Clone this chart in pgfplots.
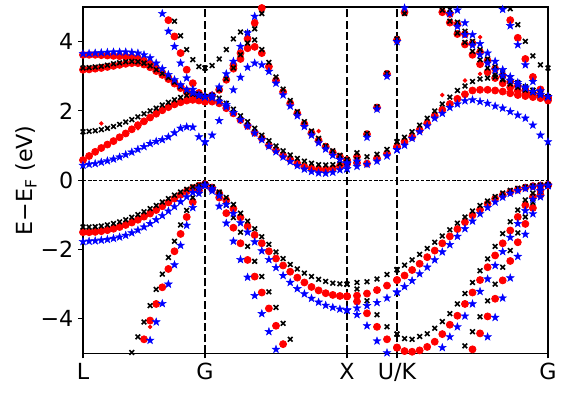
\documentclass[border=0pt]{standalone}
\usepackage{pgfplots}
\pgfplotsset{compat=1.18}
\usepackage{pgfplotstable}
\usepackage{fontspec}
\setmainfont{DejaVu Sans}

\pgfdeclareplotmark{fstar}{%
  \pgfpathmoveto{\pgfpointpolar{90}{1\pgfplotmarksize}}%
  \pgfpathlineto{\pgfpointpolar{126}{0.4\pgfplotmarksize}}%
  \pgfpathlineto{\pgfpointpolar{162}{1\pgfplotmarksize}}%
  \pgfpathlineto{\pgfpointpolar{198}{0.4\pgfplotmarksize}}%
  \pgfpathlineto{\pgfpointpolar{234}{1\pgfplotmarksize}}%
  \pgfpathlineto{\pgfpointpolar{270}{0.4\pgfplotmarksize}}%
  \pgfpathlineto{\pgfpointpolar{306}{1\pgfplotmarksize}}%
  \pgfpathlineto{\pgfpointpolar{342}{0.4\pgfplotmarksize}}%
  \pgfpathlineto{\pgfpointpolar{18}{1\pgfplotmarksize}}%
  \pgfpathlineto{\pgfpointpolar{54}{0.4\pgfplotmarksize}}%
  \pgfpathclose
  \pgfusepathqfillstroke}

% L - G segment
\pgfplotstableread{
x bv1 bv2 bc1 bc2 bd rv1 rv2 rc1 rc2 rc3 rd sv1 sv2 sc1 sc2 sd
0 -1.35 nan 1.40 3.24 nan -1.50 nan 0.58 3.62 3.19 nan -1.77 nan 0.43 3.65 nan
6.1 -1.35 nan 1.41 3.25 nan -1.50 nan 0.70 3.62 3.20 nan -1.76 nan 0.46 3.66 nan
12.2 -1.34 nan 1.43 3.27 nan -1.49 nan 0.82 3.62 3.22 nan -1.75 nan 0.48 3.67 nan
18.3 -1.32 nan 1.46 3.29 nan -1.47 nan 0.93 3.61 3.24 nan -1.73 nan 0.52 3.68 nan
24.4 -1.29 nan 1.50 3.32 nan -1.44 nan 1.03 3.60 3.27 nan -1.71 nan 0.56 3.69 nan
30.5 -1.25 nan 1.55 3.36 nan -1.40 nan 1.13 3.59 3.30 nan -1.68 nan 0.61 3.70 nan
36.6 -1.20 nan 1.61 3.39 nan -1.35 nan 1.24 3.58 3.33 nan -1.64 nan 0.67 3.70 nan
42.7 -1.14 nan 1.68 3.42 nan -1.29 nan 1.35 3.57 3.36 nan -1.59 nan 0.74 3.70 nan
48.8 -1.07 -4.97 1.75 3.43 nan -1.22 nan 1.47 3.55 3.38 nan -1.52 nan 0.81 3.69 nan
54.9 -0.99 -4.52 1.83 3.42 nan -1.14 nan 1.59 3.52 3.38 nan -1.44 nan 0.89 3.67 nan
61 -0.91 -4.09 1.92 3.38 nan -1.05 -4.59 1.70 3.45 3.34 nan -1.35 nan 0.97 3.62 nan
67.1 -0.82 -3.62 2.00 3.30 nan -0.96 -4.05 1.81 3.36 3.26 nan -1.25 -4.62 1.06 3.53 nan
73.2 -0.73 -3.15 2.08 3.19 nan -0.86 -3.57 1.92 3.24 3.15 nan -1.14 -4.09 1.12 3.38 nan
79.3 -0.63 -2.71 2.17 3.08 nan -0.75 -3.09 2.02 3.10 3.04 nan -1.02 -3.56 1.17 3.22 4.81
85.4 -0.53 -2.23 2.25 2.96 nan -0.64 -2.56 2.11 2.95 2.92 4.62 -0.89 -3.00 1.25 3.05 4.30
91.5 -0.43 -1.76 2.32 2.83 4.59 -0.53 -2.05 2.19 2.82 2.79 4.15 -0.76 -2.44 1.37 2.90 3.86
97.6 -0.34 -1.29 2.39 2.70 4.17 -0.42 -1.55 2.25 2.70 2.66 3.67 -0.62 -1.88 1.50 2.75 3.38
103.7 -0.26 -0.87 2.45 2.58 3.77 -0.32 -1.06 2.30 2.58 2.54 3.19 -0.48 -1.30 1.54 2.62 2.95
109.8 -0.19 -0.50 2.50 2.48 3.48 -0.23 -0.63 2.32 2.47 2.44 2.80 -0.35 -0.79 1.53 2.52 2.62
115.9 -0.14 -0.22 2.48 2.43 3.28 -0.16 -0.30 2.30 2.37 2.36 2.52 -0.23 -0.38 1.25 2.45 2.46
122 -0.12 -0.12 2.41 2.41 3.24 -0.12 -0.12 2.27 2.30 2.30 2.40 -0.15 -0.15 1.10 2.41 2.41
}\LG

% G - X segment
\pgfplotstableread{
x bv1 bv2 bc1 bp bq rv1 rv2 rc1 rp rq sv1 sv2 sc1 sp sq
122 -0.12 -0.12 2.41 3.24 2.41 -0.12 -0.12 2.27 2.40 nan -0.15 -0.15 2.41 1.11 2.41
129.1 -0.19 -0.20 2.41 3.31 2.45 -0.21 -0.25 2.27 2.45 nan -0.25 -0.31 2.38 1.30 2.45
136.2 -0.34 -0.40 2.37 3.50 2.62 -0.38 -0.50 2.22 2.61 nan -0.45 -0.75 2.28 1.72 2.69
143.3 -0.50 -0.72 2.22 3.77 2.93 -0.58 -0.95 2.08 2.90 nan -0.70 -1.24 2.12 2.18 3.07
150.4 -0.70 -1.08 2.05 4.08 3.24 -0.82 -1.37 1.93 3.22 3.32 -0.96 -1.76 1.95 2.61 3.43
157.5 -0.95 -1.50 1.86 4.28 3.62 -1.07 -1.82 1.74 3.50 3.67 -1.23 -2.29 1.75 2.97 3.86
164.6 -1.18 -1.91 1.69 4.25 3.96 -1.33 -2.30 1.57 3.81 4.08 -1.50 -2.80 1.56 3.26 4.25
171.7 -1.40 -2.34 1.50 4.05 4.37 -1.58 -2.78 1.37 3.85 4.54 -1.78 -3.33 1.36 3.38 4.73
178.8 -1.63 -2.78 1.30 3.77 4.81 -1.82 -3.24 1.21 3.67 4.97 -2.04 -3.85 1.17 3.33 nan
185.9 -1.85 -3.22 1.14 3.40 nan -2.05 -3.70 1.01 3.28 nan -2.29 -4.37 0.98 3.14 nan
193 -2.07 -3.67 0.99 2.98 nan -2.26 -4.20 0.87 2.88 nan -2.52 -4.88 0.82 2.80 nan
200.1 -2.26 -4.13 0.85 2.63 nan -2.46 -4.73 0.72 2.55 nan -2.75 nan 0.67 2.46 nan
207.2 -2.43 -4.59 0.73 2.30 nan -2.64 nan 0.60 2.22 nan -2.95 nan 0.54 2.14 nan
214.3 -2.56 nan 0.63 1.98 nan -2.81 nan 0.48 1.93 nan -3.13 nan 0.42 1.86 nan
221.4 -2.68 nan 0.55 1.69 nan -2.95 nan 0.39 1.62 nan -3.28 nan 0.32 1.55 nan
228.5 -2.78 nan 0.49 1.42 nan -3.08 nan 0.34 1.36 nan -3.41 nan 0.25 1.30 nan
235.6 -2.86 nan 0.45 1.21 nan -3.18 nan 0.31 1.15 nan -3.52 nan 0.21 1.08 nan
242.7 -2.92 nan 0.44 0.99 nan -3.26 nan 0.31 0.97 nan -3.61 nan 0.20 0.90 nan
249.8 -2.97 nan 0.45 0.85 nan -3.31 nan 0.34 0.80 nan -3.67 nan 0.23 0.72 nan
256.9 -2.99 nan 0.48 0.72 nan -3.34 nan 0.41 0.68 nan -3.72 nan 0.30 0.60 nan
264 -3.00 nan 0.52 0.60 nan -3.35 nan 0.48 0.58 nan -3.75 nan 0.33 0.50 nan
}\GX

% X - U segment
\pgfplotstableread{
x bv1 bva bcl bcu rv1 rva rcl rcu sv1 sva scl scu
264 -3.00 -3.00 0.52 0.60 -3.35 -3.35 0.48 0.58 -3.75 -3.75 0.33 0.48
274 -2.95 -3.14 0.60 0.79 -3.33 -3.50 0.50 0.68 -3.69 -3.88 0.40 0.55
284 -2.93 -3.48 0.68 1.35 -3.27 -3.84 0.48 1.33 -3.62 -4.20 0.46 1.24
294 -2.85 -3.88 0.75 2.12 -3.17 -4.23 0.63 2.10 -3.53 -4.64 0.55 2.05
304 -2.72 -4.23 0.89 3.09 -3.04 -4.59 0.77 3.07 -3.40 -4.98 0.70 3.00
314 -2.58 -4.44 1.11 4.08 -2.88 -4.83 0.96 4.05 -3.23 nan 0.88 4.00
321.55 nan nan nan 4.81 nan nan nan 4.85 nan nan nan 4.97
}\XU

% K - G segment
\pgfplotstableread{
x bv1 bva bvb bc1 bd1 bd2 bt rv1 rva rvb rc1 rd1 rd2 rt sv1 sva svb sc1 sd1 sd2 st
314 -2.58 -4.44 nan 1.11 nan nan nan -2.88 -4.83 nan 0.96 nan nan nan -3.23 nan nan 0.88 nan nan nan
321.55 -2.45 -4.57 nan 1.24 nan nan nan -2.75 -4.93 nan 1.11 nan nan nan -3.07 nan nan 1.01 nan nan nan
329.1 -2.30 -4.59 nan 1.40 nan nan nan -2.59 -4.95 nan 1.25 nan nan nan -2.90 nan nan 1.21 nan nan nan
336.65 -2.14 -4.51 nan 1.59 nan nan nan -2.41 -4.91 nan 1.45 nan nan nan -2.70 nan nan 1.40 nan nan nan
344.2 -1.97 -4.43 nan 1.79 nan nan nan -2.22 -4.81 nan 1.64 nan nan nan -2.51 nan nan 1.57 nan nan nan
351.75 -1.79 -4.27 nan 2.00 nan nan nan -2.03 -4.66 nan 1.86 nan nan nan -2.30 nan nan 1.79 nan nan nan
359.3 -1.61 -4.08 nan 2.20 4.91 nan nan -1.82 -4.44 nan 2.03 4.85 nan nan -2.07 -4.83 nan 1.93 nan nan nan
366.85 -1.43 -3.85 nan 2.40 4.59 4.93 nan -1.62 -4.17 nan 2.20 4.55 4.80 nan -1.86 -4.52 nan 2.10 nan 4.81 nan
374.4 -1.24 -3.57 nan 2.59 4.25 4.56 nan -1.41 -3.91 nan 2.35 4.22 4.50 nan -1.62 -4.23 nan 2.20 4.91 4.44 nan
381.95 -1.06 -3.27 -4.78 2.72 3.98 4.30 nan -1.21 -3.57 nan 2.48 3.92 4.22 nan -1.40 -3.92 nan 2.29 4.54 4.20 nan
389.5 -0.89 -2.95 -4.37 2.85 3.72 4.01 nan -1.01 -3.24 -4.88 2.59 3.62 3.95 nan -1.18 -3.57 nan 2.32 4.20 3.90 nan
397.05 -0.73 -2.61 -3.94 2.92 3.48 3.77 nan -0.85 -2.88 -4.42 2.61 3.35 3.70 nan -0.97 -3.21 nan 2.27 3.94 3.62 nan
404.6 -0.60 -2.27 -3.48 2.95 3.24 3.50 nan -0.68 -2.51 -3.93 2.61 3.12 3.45 nan -0.79 -2.85 -4.52 2.22 3.67 3.38 nan
412.15 -0.47 -1.91 -3.00 2.98 3.05 3.28 nan -0.53 -2.17 -3.42 2.59 2.95 3.22 nan -0.63 -2.46 -3.96 2.14 3.43 3.18 nan
419.7 -0.37 -1.54 -2.51 2.93 2.90 3.10 nan -0.43 -1.82 -2.89 2.56 2.80 3.02 nan -0.49 -2.06 -3.40 2.08 3.19 3.02 4.93
427.25 -0.29 -1.20 -2.03 2.85 2.78 2.95 4.95 -0.34 -1.45 -2.33 2.51 2.68 2.85 4.62 -0.38 -1.65 -2.82 1.98 2.99 2.88 4.46
434.8 -0.23 -0.86 -1.52 2.75 2.68 2.82 4.49 -0.27 -1.06 -1.79 2.46 2.58 2.72 4.11 -0.30 -1.25 -2.20 1.88 2.82 2.76 3.91
442.35 -0.19 -0.57 -1.06 2.66 2.60 2.70 4.01 -0.21 -0.72 -1.26 2.43 2.50 2.60 3.50 -0.24 -0.88 -1.56 1.79 2.69 2.66 3.33
449.9 -0.16 -0.37 -0.64 2.59 2.53 2.60 3.59 -0.17 -0.48 -0.80 2.40 2.45 2.52 2.98 -0.20 -0.55 -0.97 1.59 2.56 2.56 2.85
457.45 -0.14 -0.21 -0.32 2.50 2.46 2.50 3.33 -0.15 -0.29 -0.42 2.37 2.40 2.45 2.62 -0.17 -0.30 -0.48 1.30 2.47 2.48 2.58
465 -0.13 -0.14 -0.14 2.41 2.41 2.41 3.24 -0.13 -0.15 -0.14 2.30 2.35 2.38 2.40 -0.15 -0.15 -0.15 1.11 2.41 2.41 2.41
}\KG

\begin{document}
\begin{tikzpicture}
\begin{axis}[
  scale only axis, width=232.5pt, height=173.25pt,
  xmin=0, xmax=465, ymin=-5, ymax=5,
  xtick={0,122,264,314,465}, xticklabels={L,G,X,U/K,G},
  ytick={-4,-2,0,2,4}, yticklabels={−4,−2,0,2,4},
  tick pos=left, tick align=outside, major tick length=2.45pt,
  every tick/.style={black, line width=0.55pt},
  axis line style={line width=0.55pt},
  every tick label/.append style={font=\fontsize{11.1}{13.3}\selectfont, inner sep=2.2pt},
  ylabel={E−E\textsubscript{F} (eV)},
  ylabel style={font=\fontsize{11.1}{13.3}\selectfont, at={(axis description cs:-0.122,0.5)}, anchor=center},
  bst/.style={only marks, mark=x, mark size=1.65pt, black, line width=0.8pt},
  rst/.style={only marks, mark=*, mark size=1.75pt, red},
  rsm/.style={only marks, mark=*, mark size=0.9pt, red},
  sst/.style={only marks, mark=fstar, mark size=2.05pt, blue, line width=0.2pt},
  clip=true,
]
\pgfplotsinvokeforeach{rv1,rv2,rc1,rc2,rc3,rd}{\addplot[rst] table[x=x,y=#1]{\LG};}
\pgfplotsinvokeforeach{rv1,rv2,rc1,rp,rq}{\addplot[rst] table[x=x,y=#1]{\GX};}
\pgfplotsinvokeforeach{rv1,rva,rcl,rcu}{\addplot[rst] table[x=x,y=#1]{\XU};}
\pgfplotsinvokeforeach{rv1,rva,rvb,rc1,rd1,rd2,rt}{\addplot[rst] table[x=x,y=#1]{\KG};}
\addplot[rsm] coordinates {(18.3,1.64) (54.9,1.50) (67.1,-4.23) (235.6,1.42) (359.3,2.46) (381.95,2.88) (397.05,3.07) (397.05,4.13)};

\pgfplotsinvokeforeach{bv1,bv2,bc1,bc2,bd}{\addplot[bst] table[x=x,y=#1]{\LG};}
\pgfplotsinvokeforeach{bv1,bv2,bc1,bp,bq}{\addplot[bst] table[x=x,y=#1]{\GX};}
\pgfplotsinvokeforeach{bv1,bva,bcl,bcu}{\addplot[bst] table[x=x,y=#1]{\XU};}
\pgfplotsinvokeforeach{bv1,bva,bvb,bc1,bd1,bd2,bt}{\addplot[bst] table[x=x,y=#1]{\KG};}

\pgfplotsinvokeforeach{sv1,sv2,sc1,sc2,sd}{\addplot[sst] table[x=x,y=#1]{\LG};}
\pgfplotsinvokeforeach{sv1,sv2,sc1,sp,sq}{\addplot[sst] table[x=x,y=#1]{\GX};}
\pgfplotsinvokeforeach{sv1,sva,scl,scu}{\addplot[sst] table[x=x,y=#1]{\XU};}
\pgfplotsinvokeforeach{sv1,sva,svb,sc1,sd1,sd2,st}{\addplot[sst] table[x=x,y=#1]{\KG};}

\addplot[black, line width=0.45pt, dash pattern=on 1.7pt off 0.9pt] coordinates {(0,0) (465,0)};
\addplot[black, line width=1pt, dash pattern=on 4pt off 1.6pt] coordinates {(122,-5) (122,5)};
\addplot[black, line width=1pt, dash pattern=on 4pt off 1.6pt] coordinates {(264,-5) (264,5)};
\addplot[black, line width=1pt, dash pattern=on 4pt off 1.6pt] coordinates {(314,-5) (314,5)};
\addplot[black, line width=1pt, dash pattern=on 4pt off 1.6pt] coordinates {(465,-5) (465,5)};
\end{axis}
\pgfresetboundingbox
\path[use as bounding box] (-41.5pt,-20.75pt) rectangle (240.5pt,176.75pt);
\end{tikzpicture}
\end{document}
